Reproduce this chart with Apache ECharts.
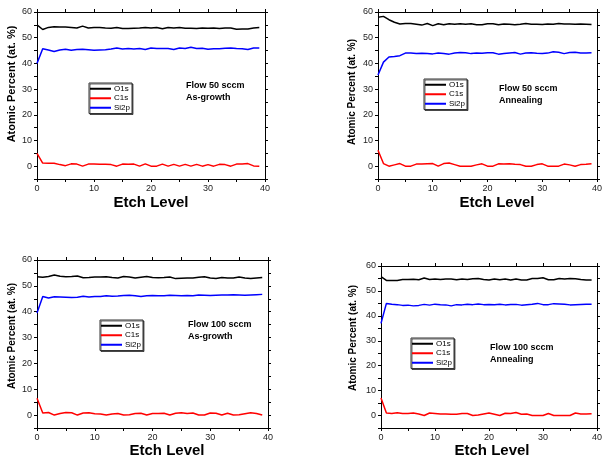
<!DOCTYPE html>
<html>
<head>
<meta charset="utf-8">
<script src="https://cdn.jsdelivr.net/npm/echarts@6/dist/echarts.min.js"></script>
<style>
  html, body { margin: 0; padding: 0; background: #fff; }
  #chart { width: 605px; height: 459px; }
</style>
</head>
<body>
<div id="chart"></div>
<script>
// etch level (x)
const etchLevel = [0,1,2,3,4,5,6,7,8,9,10,11,12,13,14,15,16,17,18,19,20,21,22,23,24,25,26,27,28,29,30,31,32,33,34,35,36,37,38,39];

// Flow 50 sccm, As-growth
const o1s50Grow = [55,53.2,54,54.3,54.2,54.2,54,53.8,54.5,53.8,54,54,53.8,53.7,54,53.6,53.6,53.7,53.8,54,53.8,54,53.5,54,53.8,54,53.7,53.7,53.6,53.8,53.7,53.8,53.6,53.8,53.8,53.3,53.4,53.4,53.8,54];
const c1s50Grow = [5,1.2,1.1,1.1,0.6,0.2,0.9,0.8,0,0.8,0.8,0.7,0.7,0.6,0,0.8,0.7,0.8,0,0.9,0,0,0.8,0,0.7,0,0.7,0,0.7,0,0.6,0,0.7,0.6,0,0.8,0.8,1,0.1,0];
const si2p50Grow = [40,45.7,45.2,44.6,45.2,45.5,45.1,45.4,45.5,45.3,45.1,45.2,45.3,45.6,46,45.6,45.8,45.6,45.8,45.4,46,45.8,45.8,45.8,45.4,46,45.8,46.3,45.8,45.9,45.5,45.7,45.7,45.9,46,45.8,45.7,45.4,46,46];

// Flow 50 sccm, Annealing
const o1s50Ann = [58,58.3,57,56,55.3,55.5,55.5,55.2,54.9,55.5,54.7,55.4,55,55.4,55.2,55.4,55.2,55.4,55,55,55.4,55.4,55,55.3,55.2,55,55.2,55.5,55.2,55.2,55.1,55.3,55.2,55.5,55.3,55.3,55.2,55.3,55.2,55.1];
const c1s50Ann = [6.2,1,0,0.5,1,0,0,0.8,0.8,0.9,1,0,1,1.2,0.6,0,0,0,0.5,0.9,0,0,0.9,0.8,0.9,0.7,0.6,0,0,0.6,0.9,0,0,0,0.8,0.5,0,0.6,0.7,0.9];
const si2p50Ann = [35.5,40.5,42.5,42.7,43,44,44,43.8,43.9,43.8,43.7,44,43.8,43.6,44,44.2,44.1,43.8,44,43.9,44.1,44.1,43.6,43.8,44,44.2,43.6,44,44.1,43.9,43.8,44,44.5,44.3,43.8,44.2,44.3,44,44,44.1];

// Flow 100 sccm, As-growth
const o1s100Grow = [53.5,53.3,53.6,54.2,53.7,53.5,53.6,53.8,53.1,53.2,53.4,53.4,53.5,53.2,53,53.6,53.4,53,53.3,53.6,53.2,53.1,53.2,53.4,52.8,52.9,53,53,53.3,53.5,53,52.8,53.2,53,53,53.4,53,52.8,53,53.2];
const c1s100Grow = [6.5,0.8,1,0,0.6,1,0.9,0,0.8,0.9,0.5,0.4,0,0.4,0.6,0,0.1,0.6,0.7,0,0.6,0.6,0.7,0,0.7,0.9,0.6,0.8,0,0,0.8,0.7,0,0.7,0,0.1,0.5,0.9,0.6,0];
const si2p100Grow = [39.5,45.9,45.3,45.8,45.7,45.6,45.5,45.6,46,45.7,45.9,45.9,46.2,46,46.1,46.3,46.4,46.2,45.9,46.2,46.3,46.2,46.2,46.4,46.3,46.2,46.3,46.2,46.5,46.4,46.3,46.4,46.5,46.5,46.6,46.5,46.4,46.5,46.6,46.7];

// Flow 100 sccm, Annealing
const o1s100Ann = [55.7,54.2,54.2,54.2,54.6,54.6,54.7,54.5,55.2,54.6,54.8,54.6,54.8,54.8,54.5,54.8,54.6,54.9,55,54.6,54.4,54.8,54.5,54.8,54.4,54.8,54.4,54.4,55,55,55.3,54.5,54.5,55,54.8,55,54.9,54.6,54.4,54.4];
const c1s100Ann = [7,1,0.8,1.1,0.8,0.8,1,0.6,0,1,0.8,0.6,0.6,0.5,0.5,0.8,0.8,0,0.2,0.6,1,0.5,0,0.9,0.8,1.2,0.5,0.6,0,0,0,0.8,0,0,0,0,1,0.6,0.6,0.7];
const si2p100Ann = [37,45,44.7,44.5,44.2,44.3,44,44.2,44.6,44.3,44.7,44.5,44.4,44,44.5,44.4,44.7,44.5,44.8,44.5,44.6,44.5,44.7,44.4,44.6,44.6,44.3,44.5,44.7,45,44.5,44.5,44.9,44.8,44.7,44.4,44.5,44.6,44.7,44.7];

const seriesNames = ['O1s', 'C1s', 'Si2p'];
const seriesColors = ['#000000', '#ff0000', '#0000ff'];
const panelNotes = ['Flow 50 sccm\nAs-growth', 'Flow 50 sccm\nAnnealing', 'Flow 100 sccm\nAs-growth', 'Flow 100 sccm\nAnnealing'];
const yTitle = 'Atomic Percent (at. %)';
const xTitle = 'Etch Level';

const panels = [
  { data: [o1s50Grow, c1s50Grow, si2p50Grow],
    grid: { left: 37, top: 12, width: 228, height: 167 },
    legend: { left: 89, top: 83 }, note: [186, 80], yName: [12, 84, 11], xName: [151, 203] },
  { data: [o1s50Ann, c1s50Ann, si2p50Ann],
    grid: { left: 378, top: 12, width: 224, height: 167 },
    legend: { left: 424, top: 79 }, note: [499, 83], yName: [352, 92, 10], xName: [497, 203] },
  { data: [o1s100Grow, c1s100Grow, si2p100Grow],
    grid: { left: 37, top: 260, width: 231, height: 168 },
    legend: { left: 100, top: 320 }, note: [188, 319], yName: [12, 336, 10], xName: [167, 451] },
  { data: [o1s100Ann, c1s100Ann, si2p100Ann],
    grid: { left: 381, top: 266, width: 221, height: 162 },
    legend: { left: 411, top: 338 }, note: [490, 342], yName: [353, 338, 10], xName: [492, 451] }
];

const FONT = 'Arial, "Liberation Sans", sans-serif';
const axisLine = { show: true, onZero: false, lineStyle: { color: '#000', width: 1 } };
const tickOut = { show: true, inside: false, length: 3, lineStyle: { color: '#000' } };

const option = {
  animation: false,
  backgroundColor: '#fff',
  grid: [], xAxis: [], yAxis: [], series: [], legend: [], graphic: []
};

panels.forEach(function (p, i) {
  option.grid.push(p.grid);
  // bottom + top x axes
  option.xAxis.push({
    type: 'value', gridIndex: i, position: 'bottom', min: 0, max: 40, interval: 5,
    axisLine: axisLine, axisTick: tickOut, splitLine: { show: false },
    axisLabel: { margin: 5, fontSize: 9, color: '#222', fontFamily: FONT,
      formatter: function (v) { return v % 10 === 0 ? v : ''; } }
  });
  option.xAxis.push({
    type: 'value', gridIndex: i, position: 'top', min: 0, max: 40, interval: 5,
    axisLine: axisLine, axisTick: tickOut, axisLabel: { show: false }, splitLine: { show: false }
  });
  // left + right y axes
  option.yAxis.push({
    type: 'value', gridIndex: i, position: 'left', min: -5, max: 60, interval: 5,
    axisLine: axisLine, axisTick: tickOut, splitLine: { show: false },
    axisLabel: { margin: 5, fontSize: 9, color: '#222', fontFamily: FONT,
      formatter: function (v) { return v % 10 === 0 ? v : ''; } }
  });
  option.yAxis.push({
    type: 'value', gridIndex: i, position: 'right', min: -5, max: 60, interval: 5,
    axisLine: axisLine, axisTick: tickOut, axisLabel: { show: false }, splitLine: { show: false }
  });

  p.data.forEach(function (vals, k) {
    option.series.push({
      name: seriesNames[k], type: 'line',
      xAxisIndex: i * 2, yAxisIndex: i * 2,
      symbol: 'none', smooth: false,
      lineStyle: { color: seriesColors[k], width: 1.5 },
      itemStyle: { color: seriesColors[k] },
      data: etchLevel.map(function (x, j) { return [x, vals[j]]; })
    });
  });

  option.legend.push({
    left: p.legend.left, top: p.legend.top, orient: 'vertical',
    selectedMode: false, icon: 'rect',
    itemWidth: 21, itemHeight: 2, itemGap: 0,
    padding: [1, 2, 1, 1],
    borderColor: '#333', borderWidth: 1, backgroundColor: '#fff',
    shadowColor: 'rgba(0,0,0,0.6)', shadowOffsetX: 1, shadowOffsetY: 1,
    textStyle: { fontSize: 8, lineHeight: 9.5, color: '#000', fontFamily: FONT, padding: [0, 0, 0, -2] },
    data: seriesNames.map(function (n, k) {
      return { name: n, itemStyle: { color: seriesColors[k] } };
    })
  });

  option.graphic.push({
    type: 'text', left: p.note[0], top: p.note[1],
    style: { text: panelNotes[i], font: 'bold 9px ' + FONT, fill: '#000', lineHeight: 12 }
  });
  option.graphic.push({
    type: 'text', x: p.yName[0], y: p.yName[1], rotation: Math.PI / 2,
    style: { text: yTitle, font: 'bold ' + p.yName[2] + 'px ' + FONT, fill: '#000',
      align: 'center', verticalAlign: 'middle' }
  });
  option.graphic.push({
    type: 'text', x: p.xName[0], y: p.xName[1],
    style: { text: xTitle, font: 'bold 15px ' + FONT, fill: '#000',
      align: 'center', verticalAlign: 'middle' }
  });
});

const chart = echarts.init(document.getElementById('chart'), null, { renderer: 'canvas' });
chart.setOption(option);
window.addEventListener('resize', function () { chart.resize(); });
</script>
</body>
</html>
